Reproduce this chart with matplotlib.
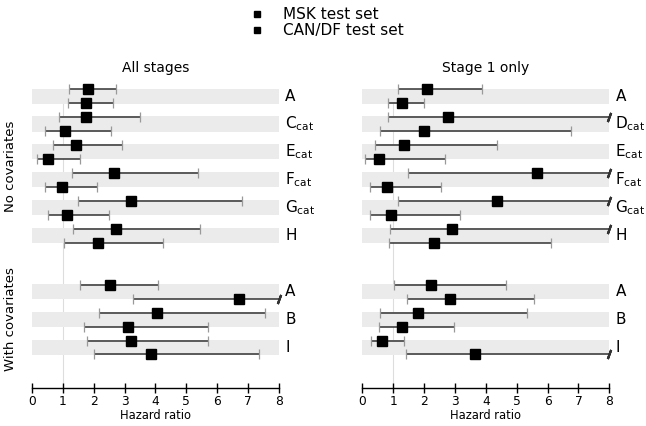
import matplotlib
matplotlib.use('Agg')
import matplotlib.pyplot as plt
import numpy as np

# rows (top to bottom) for each panel
labels_all = ['A', 'C$_{\\mathrm{cat}}$', 'E$_{\\mathrm{cat}}$', 'F$_{\\mathrm{cat}}$', 'G$_{\\mathrm{cat}}$', 'H',
              'A', 'B', 'I']
labels_st1 = ['A', 'D$_{\\mathrm{cat}}$', 'E$_{\\mathrm{cat}}$', 'F$_{\\mathrm{cat}}$', 'G$_{\\mathrm{cat}}$', 'H',
              'A', 'B', 'I']

# All stages: hazard ratio, lower, upper (np.inf = beyond axis)
msk_all = [1.82, 1.74, 1.43, 2.66, 3.20, 2.71, 2.52, 4.06, 3.22]
msk_all_lo = [1.20, 0.86, 0.69, 1.31, 1.48, 1.34, 1.54, 2.16, 1.79]
msk_all_hi = [2.72, 3.49, 2.91, 5.37, 6.81, 5.45, 4.09, 7.56, 5.70]
can_all = [1.76, 1.07, 0.53, 0.97, 1.13, 2.14, 6.69, 3.11, 3.85]
can_all_lo = [1.18, 0.43, 0.15, 0.43, 0.51, 1.05, 3.28, 1.68, 2.00]
can_all_hi = [2.62, 2.57, 1.57, 2.09, 2.48, 4.25, np.inf, 5.70, 7.36]

# Stage 1 only
msk_st1 = [2.08, 2.78, 1.35, 5.67, 4.36, 2.92, 2.21, 1.81, 0.64]
msk_st1_lo = [1.15, 0.84, 0.40, 1.47, 1.15, 0.91, 1.03, 0.58, 0.28]
msk_st1_hi = [3.87, np.inf, 4.37, np.inf, np.inf, np.inf, 4.64, 5.32, 1.36]
can_st1 = [1.28, 2.01, 0.55, 0.80, 0.93, 2.33, 2.85, 1.29, 3.65]
can_st1_lo = [0.82, 0.58, 0.10, 0.24, 0.26, 0.88, 1.45, 0.55, 1.41]
can_st1_hi = [1.99, 6.75, 2.68, 2.56, 3.18, 6.10, 5.57, 2.96, np.inf]

# row positions: no-covariate block then with-covariate block
group_pos = [0, 2, 4, 6, 8, 10, 14, 16, 18]
XMAX = 8

fig = plt.figure(figsize=(6.46, 4.26), dpi=100)


def panel(left, title, labels, m, mlo, mhi, c, clo, chi):
    ax = fig.add_axes([left, 0.0892, 0.3824, 0.723])
    ax.set_xlim(0, XMAX)
    ax.set_ylim(21.4, -0.65)
    ax.axvline(1, color='#dddddd', lw=0.8, ymin=0, ymax=0.97, zorder=0)
    for k, y0 in enumerate(group_pos):
        ax.barh(y0 + 0.5, XMAX, height=1.08, left=0, color='#ebebeb', zorder=1)
        ax.text(XMAX + 0.2, y0 + 0.5, labels[k], fontsize=11, va='center', ha='left')
        for y, v, lo, hi in [(y0, m[k], mlo[k], mhi[k]), (y0 + 1, c[k], clo[k], chi[k])]:
            hi_d = min(hi, XMAX)
            ax.hlines(y, lo, hi_d, color='#333333', lw=1.1, zorder=2)
            ax.plot([lo], [y], marker='|', ms=7, color='#999999', mew=0.9, zorder=2)
            if hi > XMAX:
                ax.plot([XMAX], [y], marker=(2, 2, -20), ms=7, color='#333333', mew=1.6,
                        zorder=3, clip_on=False)
            else:
                ax.plot([hi], [y], marker='|', ms=7, color='#999999', mew=0.9, zorder=2)
            ax.plot([v], [y], marker='s', ms=6.5, color='black', zorder=4)
    for s in ['top', 'right', 'left']:
        ax.spines[s].set_visible(False)
    ax.spines['bottom'].set_linewidth(1.0)
    ax.set_yticks([])
    ax.set_xticks(range(0, 9))
    ax.tick_params(axis='x', direction='inout', length=7, width=1.0, labelsize=8.8, pad=1.5)
    ax.set_xlabel('Hazard ratio', fontsize=8.3, labelpad=1)
    ax.set_title(title, fontsize=10, pad=6)
    return ax


ax1 = panel(0.0495, 'All stages', labels_all, msk_all, msk_all_lo, msk_all_hi,
            can_all, can_all_lo, can_all_hi)
ax2 = panel(0.5608, 'Stage 1 only', labels_st1, msk_st1, msk_st1_lo, msk_st1_hi,
            can_st1, can_st1_lo, can_st1_hi)

ax1.text(-0.68, 5.5, 'No covariates', rotation=90, fontsize=9.5, ha='center', va='center')
ax1.text(-0.68, 16.5, 'With covariates', rotation=90, fontsize=9.5, ha='center', va='center')

# legend
h1, = fig.gca().plot([], [], 's', color='black', ms=4.5)
h2, = fig.gca().plot([], [], 's', color='black', ms=4.5)
fig.legend([h1, h2], ['MSK test set', 'CAN/DF test set'], loc='upper center',
           bbox_to_anchor=(0.505, 1.015), frameon=False, fontsize=11, handlelength=1.2,
           handletextpad=1.1, labelspacing=0.05)

fig.savefig('out.png', dpi=100)
